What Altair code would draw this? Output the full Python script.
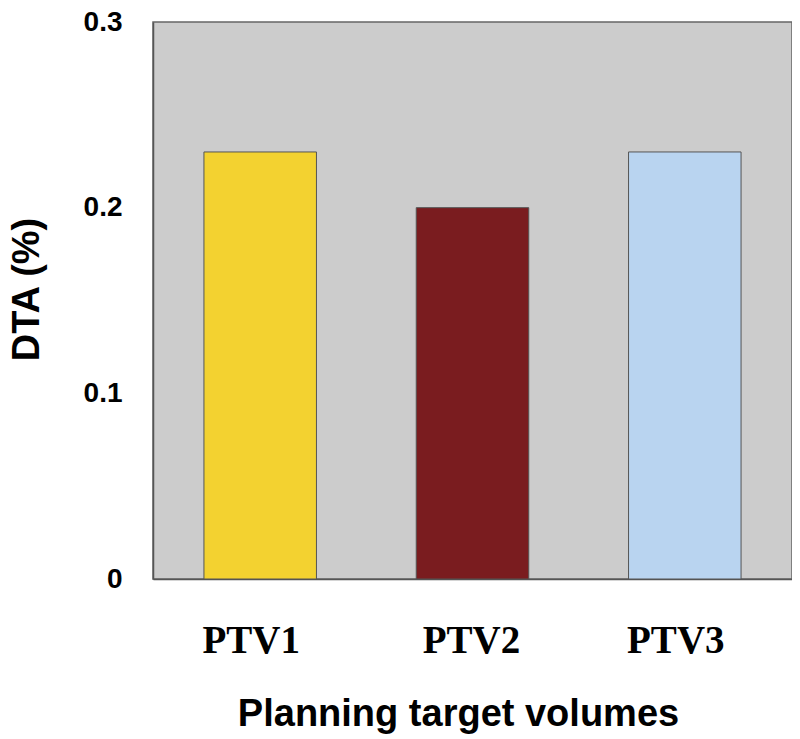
import altair as alt
import pandas as pd

categories = ["PTV1", "PTV2", "PTV3"]
values = [0.23, 0.20, 0.23]
colors = ["#F3D230", "#7A1C1F", "#B9D4F0"]

df = pd.DataFrame({"cat": categories, "val": values})

chart = alt.Chart(df).mark_bar(stroke="#555555", strokeWidth=1).encode(
    x=alt.X("cat:N", sort=categories,
            scale=alt.Scale(paddingInner=0.47, paddingOuter=0.24),
            axis=alt.Axis(title="Planning target volumes", labelAngle=0,
                          labelFont="Liberation Serif", labelFontWeight="bold",
                          labelFontSize=39, labelColor="black", labelPadding=42,
                          labelOffset=alt.ExprRef(expr="datum.value == 'PTV2' ? -1 : -9"),
                          ticks=False, domainColor="#555555", domainWidth=1.5,
                          titleFont="Liberation Sans", titleFontSize=38, titleX=305,
                          titleFontWeight="bold", titleColor="black", titlePadding=35)),
    y=alt.Y("val:Q", scale=alt.Scale(domain=[0, 0.3], nice=False),
            axis=alt.Axis(title="DTA (%)", values=[0, 0.1, 0.2, 0.3],
                          labelExpr="datum.value == 0 ? '0' : format(datum.value, '.1f')",
                          labelFont="Liberation Sans", labelFontWeight="bold",
                          labelFontSize=28, labelColor="black", labelPadding=31,
                          ticks=False, grid=False, domainColor="#555555", domainWidth=1.5,
                          titleFont="Liberation Sans", titleFontSize=38, titleY=267,
                          titleFontWeight="bold", titleColor="black", titlePadding=37)),
    color=alt.Color("cat:N", scale=alt.Scale(domain=categories, range=colors), legend=None),
).properties(
    width=639, height=557,
    background="white",
    autosize=alt.AutoSizeParams(type="none"),
    padding={"left": 145, "top": 14, "right": 0, "bottom": 155},
).configure_view(
    fill="#CCCCCC", stroke="#666666", strokeWidth=1.5
)

chart.save("out.html", embed_options={"renderer": "svg", "actions": False})
